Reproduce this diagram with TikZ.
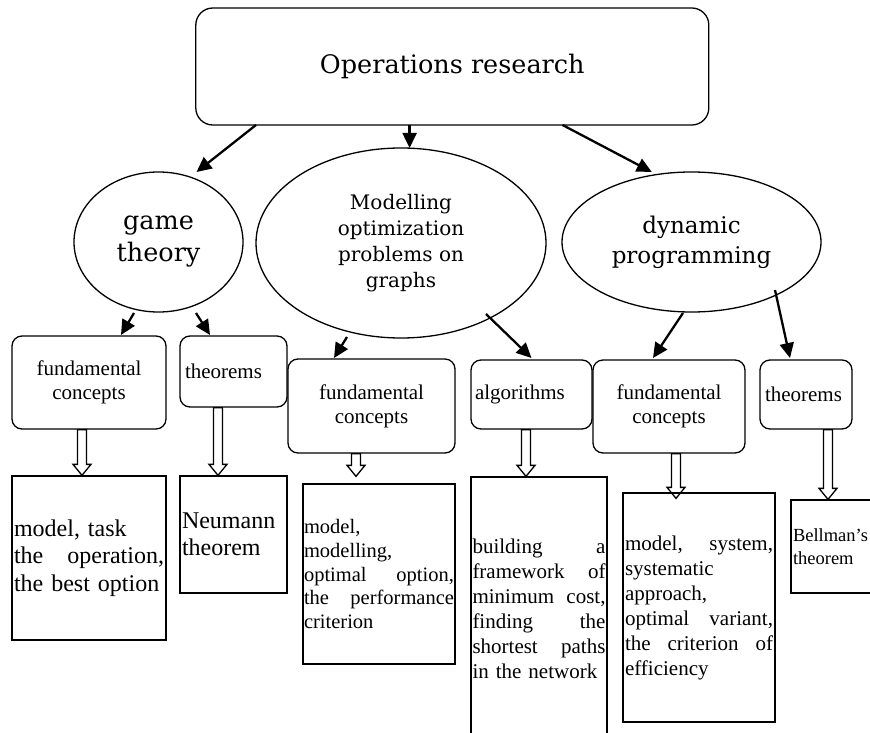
\documentclass[tikz,border=0pt]{standalone}
\usepackage{fontspec}
\setmainfont{Liberation Serif}
\newfontfamily\bk{DejaVu Serif}
\usetikzlibrary{arrows.meta,calc,shapes.geometric}
\newcommand\jl[1]{\leavevmode\hbox to\hsize{#1}}
\newcommand\lab{\fontsize{21}{24}\selectfont}
\begin{document}
\begin{tikzpicture}[x=1pt,y=-1pt,
  rbox/.style={draw, line width=1.3pt, rounded corners=10pt, inner sep=0pt, align=center, font=\lab},
  pbox/.style={draw, line width=1.3pt, inner sep=0pt, align=left},
  oval/.style={draw, ellipse, line width=1.3pt, inner sep=0pt, align=center},
  arr/.style={line width=2.3pt, -{Triangle[length=15pt,width=14pt]}},
  hollow/.style={line width=1.3pt, to path={let \p1=(\tikztostart), \p2=(\tikztotarget) in
     (\x1-4.5pt,\y1) -- (\x1-4.5pt,\y2+11pt) -- (\x1-9pt,\y2+11pt) -- (\x1,\y2) -- (\x1+9pt,\y2+11pt) -- (\x1+4.5pt,\y2+11pt) -- (\x1+4.5pt,\y1) -- cycle}}
]
\useasboundingbox (0,0) rectangle (870,733);

% top
\node[rbox, rounded corners=17pt, minimum width=513pt, minimum height=117pt, font=\bk\fontsize{25.5}{30}\selectfont] (top) at (452.3,66.5) {Operations research};

% ellipses
\node[oval, minimum width=169pt, minimum height=140pt, font=\bk\fontsize{25.5}{32}\selectfont] (gt) at (158.5,242) {game\\theory};
\node[oval, minimum width=290pt, minimum height=190pt, font=\bk\fontsize{20}{26}\selectfont] (mod) at (401,243) {Modelling\\optimization\\problems on\\graphs};
\node[oval, minimum width=259pt, minimum height=140pt, font=\bk\fontsize{23}{30}\selectfont] (dp) at (691.5,242) {dynamic\\programming};

% rounded boxes
\node[rbox, minimum width=154pt, minimum height=93pt] (fc1) at (89,382.5) {fundamental\\concepts};
\node[rbox, minimum width=107pt, minimum height=71pt, text width=97pt, align=left] (th1) at (233.5,371.5) {theorems};
\node[rbox, minimum width=167pt, minimum height=94pt] (fc2) at (371.5,406) {fundamental\\concepts};
\node[rbox, minimum width=121pt, minimum height=69pt, text width=113pt, align=left] (alg) at (531.5,394.5) {algorithms};
\node[rbox, minimum width=152pt, minimum height=93pt] (fc3) at (669,406.5) {fundamental\\concepts};
\node[rbox, minimum width=92pt, minimum height=69pt, text width=82pt, align=left] (th3) at (806,394.5) {theorems};

% plain boxes
\node[pbox, minimum width=154pt, minimum height=164pt, text width=150pt, font=\fontsize{24}{27.5}\selectfont] (b1) at (89,558)
  {model, task\\\jl{the\hfill operation,}\\the best option};
\node[pbox, minimum width=107pt, minimum height=117pt, text width=103pt, font=\fontsize{24}{27}\selectfont] (b2) at (233.5,534.5)
  {Neumann\\theorem};
\node[pbox, minimum width=152pt, minimum height=180pt, text width=150pt, font=\fontsize{20.5}{23.75}\selectfont] (b3) at (379,574)
  {model,\\modelling,\\\jl{optimal\hfill option,}\\\jl{the\hfill performance}\\criterion};
\node[pbox, minimum width=136pt, minimum height=263pt, text width=133pt, font=\fontsize{21}{25}\selectfont] (b4) at (539,608.5)
  {\jl{building\hfill a}\\\jl{framework\hfill of}\\\jl{minimum\hfill cost,}\\\jl{finding\hfill the}\\\jl{shortest\hfill paths}\\in the network};
\node[pbox, minimum width=152pt, minimum height=229pt, text width=148pt, font=\fontsize{21}{25}\selectfont] (b5) at (699,607.5)
  {\jl{model,\hfill system,}\\systematic\\approach,\\\jl{optimal\hfill variant,}\\\jl{the\hfill criterion\hfill of}\\efficiency};
\node[pbox, minimum width=109pt, minimum height=93pt, text width=105pt, font=\fontsize{18.5}{23}\selectfont] (b6) at (845.5,546.5)
  {Bellman's\\theorem};

% arrows
\draw[arr] ($(top.center)+(-196.3,58.5)$) -- ($(gt.center)+(38,-70)$);
\draw[arr] ($(top.center)+(-42.7,58.5)$) -- ($(mod.center)+(8.6,-95)$);
\draw[arr] ($(top.center)+(110.2,58.5)$) -- ($(dp.center)+(-39.7,-70)$);
\draw[arr] ($(gt.center)+(-24.5,71)$) -- ($(fc1.center)+(32,-47.5)$);
\draw[arr] ($(gt.center)+(37.5,71)$) -- ($(th1.center)+(-23.5,-36.5)$);
\draw[arr] ($(mod.center)+(-54,94)$) -- ($(fc2.center)+(-37.5,-48)$);
\draw[arr] ($(mod.center)+(85,71)$) -- ($(alg.center)+(0,-36.5)$);
\draw[arr] ($(dp.center)+(-8.5,71)$) -- ($(fc3.center)+(-16,-48.5)$);
\draw[arr] ($(dp.center)+(83.5,48)$) -- ($(th3.center)+(-16,-36.5)$);

% hollow arrows
\draw[hollow] ([xshift=-7pt]fc1.south) to (b1.north);
\draw[hollow] ([xshift=-15.5pt]th1.south) to (b2.north);
\draw[hollow] ([xshift=-15.5pt]fc2.south) to ([yshift=7pt]b3.north);
\draw[hollow] ([xshift=-5.5pt]alg.south) to (b4.north);
\draw[hollow] ([xshift=7pt]fc3.south) to ([yshift=-6pt]b5.north);
\draw[hollow] ([xshift=22pt]th3.south) to (b6.north);
\end{tikzpicture}
\end{document}
